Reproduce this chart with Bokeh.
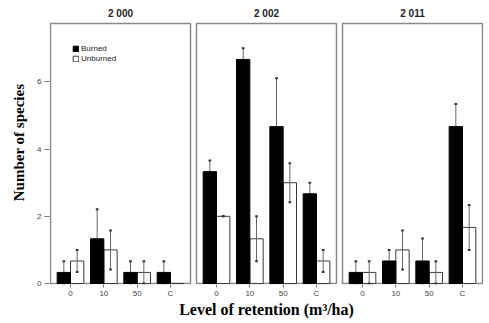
import pandas as pd
from bokeh.plotting import figure
from bokeh.models import (ColumnDataSource, Title, FixedTicker, Legend, LegendItem)
from bokeh.transform import dodge
from bokeh.core.properties import value
from bokeh.embed import file_html
from bokeh.resources import INLINE

# ---- data ----
years = ["2 000", "2 002", "2 011"]
levels = ["0", "10", "50", "C"]

burned_2000 = [0.33, 1.33, 0.33, 0.33]
burned_err_2000 = [0.33, 0.88, 0.33, 0.33]
unburned_2000 = [0.67, 1.0, 0.33, 0.0]
unburned_err_2000 = [0.33, 0.58, 0.33, 0.0]

burned_2002 = [3.33, 6.67, 4.67, 2.67]
burned_err_2002 = [0.33, 0.33, 1.44, 0.33]
unburned_2002 = [2.0, 1.33, 3.0, 0.67]
unburned_err_2002 = [0.0, 0.67, 0.58, 0.33]

burned_2011 = [0.33, 0.67, 0.67, 4.67]
burned_err_2011 = [0.33, 0.33, 0.67, 0.67]
unburned_2011 = [0.33, 1.0, 0.33, 1.67]
unburned_err_2011 = [0.33, 0.58, 0.33, 0.67]

y_ticks = [0, 2, 4, 6]

burned = [burned_2000, burned_2002, burned_2011]
burned_err = [burned_err_2000, burned_err_2002, burned_err_2011]
unburned = [unburned_2000, unburned_2002, unburned_2011]
unburned_err = [unburned_err_2000, unburned_err_2002, unburned_err_2011]

# ---- layout of the three panels on one numeric x scale ----
n = len(levels)
pad = 0.6
gap = 0.18
panel_w = (n - 1) + 2 * pad
step = panel_w + gap
YMAX = 7.74          # top of each panel box
PX_PER_Y = 33.6      # vertical scale (px per unit)
TOP_SPACE = 22 / PX_PER_Y   # room above the boxes for the panel titles

rows = []
for i, yr in enumerate(years):
    for j, lv in enumerate(levels):
        rows.append(dict(x=round(i * step + j, 2), year=yr, level=lv,
                         b=burned[i][j], be=burned_err[i][j],
                         u=unburned[i][j], ue=unburned_err[i][j]))
df = pd.DataFrame(rows)
df["b_lo"] = df.b - df.be
df["b_hi"] = df.b + df.be
df["u_lo"] = df.u - df.ue
df["u_hi"] = df.u + df.ue

src = ColumnDataSource(df)
src_bw = ColumnDataSource(df[df.b > 0])
src_uw = ColumnDataSource(df[df.u > 0])

panels = pd.DataFrame(dict(year=years,
                           left=[round(i * step - pad, 2) for i in range(len(years))],
                           right=[round(i * step + n - 1 + pad, 2) for i in range(len(years))],
                           center=[round(i * step + (n - 1) / 2, 2) for i in range(len(years))]))
panels["ty"] = YMAX + 0.3
psrc = ColumnDataSource(panels)

p = figure(width=489, height=323,
           x_range=(-pad - 0.03, (len(years) - 1) * step + n - 1 + pad + 0.03),
           y_range=(-0.03, YMAX + 0.03 + TOP_SPACE),
           output_backend="svg", toolbar_location=None,
           min_border_left=49, min_border_right=6, min_border_top=0, min_border_bottom=39)
p.grid.visible = False
p.outline_line_color = None
p.background_fill_color = "white"

# panel boxes
p.quad(left="left", right="right", bottom=0, top=YMAX, source=psrc,
       fill_color=None, line_color="#8a8a8a", line_width=1.5)

# panel titles
p.text(x="center", y="ty", text="year", source=psrc, text_align="center",
       text_baseline="middle", text_font=value("Liberation Sans"),
       text_font_style="bold", text_font_size="10px", text_color="#222222")

bw = 0.4
ru = p.vbar(x=dodge("x", bw / 2), top="u", width=bw, source=src,
            fill_color="white", line_color="#3a3a3a", line_width=1)

# error bars
for s, off, lo, hi in [(src_bw, -bw / 2, "b_lo", "b_hi"), (src_uw, bw / 2, "u_lo", "u_hi")]:
    p.segment(x0=dodge("x", off), x1=dodge("x", off), y0=lo, y1=hi, source=s,
              line_color="#666666", line_width=1)
    for end in (lo, hi):
        p.segment(x0=dodge("x", off - 0.04), x1=dodge("x", off + 0.04), y0=end, y1=end,
                  source=s, line_color="#333333", line_width=2)

rb = p.vbar(x=dodge("x", -bw / 2), top="b", width=bw, source=src,
            fill_color="black", line_color="black", line_width=1)

# axes
p.xaxis.ticker = FixedTicker(ticks=list(df.x))
p.xaxis.major_label_overrides = {float(x): lv for x, lv in zip(df.x, df.level)}
p.xaxis.axis_line_color = None
p.xaxis.major_tick_line_color = "#777777"
p.xaxis.major_tick_out = 3
p.xaxis.major_tick_in = 0
p.xaxis.minor_tick_line_color = None
p.xaxis.major_label_standoff = 1
p.xaxis.major_label_text_font = "Liberation Sans"
p.xaxis.major_label_text_font_size = "8px"
p.xaxis.major_label_text_color = "#444444"

p.yaxis.ticker = FixedTicker(ticks=y_ticks)
p.yaxis.axis_line_color = None
p.yaxis.major_tick_line_color = "#777777"
p.yaxis.major_tick_out = 5
p.yaxis.major_tick_in = 0
p.yaxis.minor_tick_line_color = None
p.yaxis.major_label_standoff = 3
p.yaxis.major_label_text_font = "Liberation Sans"
p.yaxis.major_label_text_font_size = "8px"
p.yaxis.major_label_text_color = "#444444"
p.yaxis.axis_label = "Number of species"
p.yaxis.axis_label_text_font = "Liberation Serif"
p.yaxis.axis_label_text_font_style = "bold"
p.yaxis.axis_label_text_font_size = "15px"
p.yaxis.axis_label_text_color = "black"
p.yaxis.axis_label_standoff = 7

# x axis title
p.add_layout(Title(text="Level of retention (m³/ha)", align="center", offset=-8, standoff=-3,
                   text_font="Liberation Serif", text_font_style="bold",
                   text_font_size="16px", text_color="black"), "below")

legend = Legend(items=[LegendItem(label="Burned", renderers=[rb]),
                       LegendItem(label="Unburned", renderers=[ru])],
                location="top_left", margin=0, padding=0, spacing=1,
                glyph_width=7, glyph_height=7, label_height=9, label_standoff=2,
                label_text_font="Liberation Sans", label_text_font_size="8px",
                label_text_color="#222222", border_line_color=None,
                background_fill_alpha=0)
legend.location = (23, 284 - 44 - 19)
p.add_layout(legend)

open("out.html", "w").write(file_html(p, INLINE))
